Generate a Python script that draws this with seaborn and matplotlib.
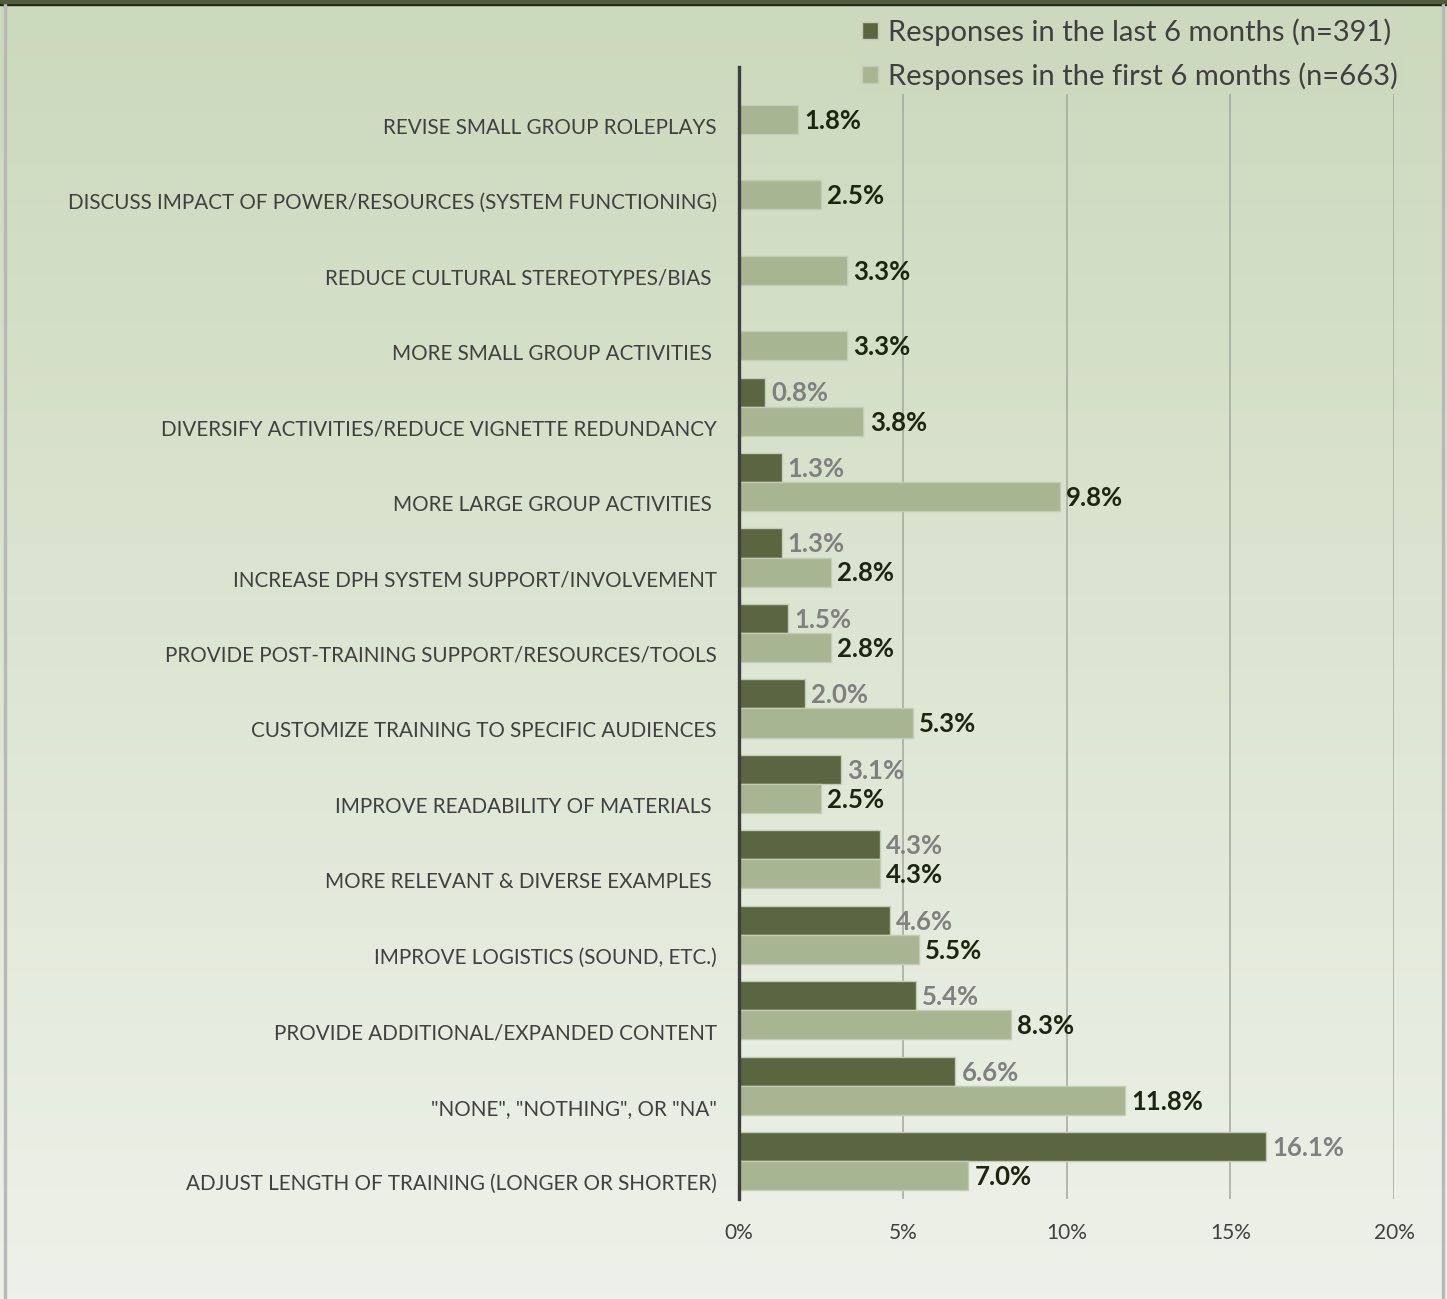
import numpy as np
import pandas as pd
import matplotlib
matplotlib.use("Agg")
import matplotlib.pyplot as plt
import matplotlib.transforms as mtransforms
from matplotlib.patches import Rectangle
import seaborn as sns

categories = [
    "REVISE SMALL GROUP ROLEPLAYS",
    "DISCUSS IMPACT OF POWER/RESOURCES (SYSTEM FUNCTIONING)",
    "REDUCE CULTURAL STEREOTYPES/BIAS ",
    "MORE SMALL GROUP ACTIVITIES ",
    "DIVERSIFY ACTIVITIES/REDUCE VIGNETTE REDUNDANCY",
    "MORE LARGE GROUP ACTIVITIES ",
    "INCREASE DPH SYSTEM SUPPORT/INVOLVEMENT",
    "PROVIDE POST-TRAINING SUPPORT/RESOURCES/TOOLS",
    "CUSTOMIZE TRAINING TO SPECIFIC AUDIENCES",
    "IMPROVE READABILITY OF MATERIALS ",
    "MORE RELEVANT & DIVERSE EXAMPLES ",
    "IMPROVE LOGISTICS (SOUND, ETC.)",
    "PROVIDE ADDITIONAL/EXPANDED CONTENT",
    "\"NONE\", \"NOTHING\", OR \"NA\"",
    "ADJUST LENGTH OF TRAINING (LONGER OR SHORTER)",
]
last_6 = [0, 0, 0, 0, 0.8, 1.3, 1.3, 1.5, 2.0, 3.1, 4.3, 4.6, 5.4, 6.6, 16.1]
first_6 = [1.8, 2.5, 3.3, 3.3, 3.8, 9.8, 2.8, 2.8, 5.3, 2.5, 4.3, 5.5, 8.3, 11.8, 7.0]
series = ["Responses in the last 6 months (n=391)", "Responses in the first 6 months (n=663)"]
x_ticks = [0, 5, 10, 15, 20]
x_tick_labels = ["0%", "5%", "10%", "15%", "20%"]

FONT = ["Lato", "DejaVu Sans"]
DARK = "#5b6541"
LIGHT = "#a7b592"

df = pd.DataFrame({
    "category": categories * 2,
    "series": [series[0]] * len(categories) + [series[1]] * len(categories),
    "value": last_6 + first_6,
})

sns.set_style("white")
plt.rcParams["font.family"] = FONT

W, H = 1447, 1299
fig = plt.figure(figsize=(W / 100, H / 100), dpi=100)

# background gradient
bg = fig.add_axes([0, 0, 1, 1], zorder=-10)
grad = np.linspace(0, 1, 256).reshape(-1, 1)
top = np.array(matplotlib.colors.to_rgb("#cbd9bc"))
bot = np.array(matplotlib.colors.to_rgb("#eef1e9"))
img = top[None, None, :] * (1 - grad[:, :, None]) + bot[None, None, :] * grad[:, :, None]
bg.imshow(img, aspect="auto", extent=[0, 1, 0, 1], origin="upper")
bg.set_xlim(0, 1); bg.set_ylim(0, 1)
bg.axis("off")
# frame
bg.add_patch(Rectangle((0, 1 - 5 / H), 1, 5 / H, color="#1f2612", transform=bg.transAxes, zorder=5))
bg.add_patch(Rectangle((0, 1 - 3 / H), 1, 3 / H, color="#4f5a38", transform=bg.transAxes, zorder=6))
bg.add_patch(Rectangle((4 / W, 0), 2 / W, 1, color="#b8b8b8", transform=bg.transAxes, zorder=5))
bg.add_patch(Rectangle((1 - 5 / W, 0), 2 / W, 1, color="#b8b8b8", transform=bg.transAxes, zorder=5))

ax = fig.add_axes([739 / W, 1 - 1199 / H, (1394 - 739) / W, (1199 - 67) / H])
ax.set_facecolor("none")

sns.barplot(data=df, y="category", x="value", hue="series", hue_order=series,
            order=categories, orient="h", palette=[DARK, LIGHT], width=0.77,
            edgecolor="#c3cdb5", linewidth=1.0, saturation=1, ax=ax, zorder=3)

ax.set_xlim(0, 20)
ax.set_xticks(x_ticks)
ax.set_xticklabels(x_tick_labels)
ax.set_xlabel(""); ax.set_ylabel("")
ax.grid(axis="x", color="#a3a89d", linewidth=1.1, zorder=0)
ax.grid(axis="y", visible=False)
for s in ["top", "right", "bottom"]:
    ax.spines[s].set_visible(False)
ax.spines["left"].set_color("#3f3f3f")
ax.spines["left"].set_linewidth(2.4)
ax.spines["left"].set_zorder(5)
ax.tick_params(axis="x", length=0, pad=17, labelsize=15, labelcolor="#404040")
ax.tick_params(axis="y", length=0, pad=16, labelsize=14.9, labelcolor="#404040")

# shift category labels downward as in reference
offset = mtransforms.ScaledTranslation(0, -21 / 100, fig.dpi_scale_trans)
for lbl in ax.get_yticklabels():
    lbl.set_transform(lbl.get_transform() + offset)

# value labels
containers = ax.containers
for cont, vals, color in [(containers[0], last_6, "#808080"), (containers[1], first_6, "#1c2510")]:
    for bar, v in zip(cont.patches, vals):
        if v == 0:
            continue
        yc = bar.get_y() + bar.get_height() / 2
        ax.annotate(f"{v:.1f}%", xy=(v, yc), xytext=(4.5, -1), textcoords="offset points",
                    ha="left", va="center", fontsize=18.5, fontweight="bold", color=color,
                    zorder=6, annotation_clip=False)

# legend
handles, labels = ax.get_legend_handles_labels()
if ax.get_legend() is not None:
    ax.get_legend().remove()
leg = fig.legend(handles, labels, loc="upper right", bbox_to_anchor=(1402 / W, 1 - 14 / H),
                 frameon=True, fontsize=21, handlelength=0.55, handleheight=0.55,
                 handletextpad=0.35, labelspacing=0.55, labelcolor="#404040",
                 borderaxespad=0, borderpad=0.15, fancybox=False)
leg.get_frame().set_facecolor("#ccd9be")
leg.get_frame().set_edgecolor("none")
leg.get_frame().set_alpha(1)
leg.set_zorder(10)

fig.savefig("out.png", dpi=100)
